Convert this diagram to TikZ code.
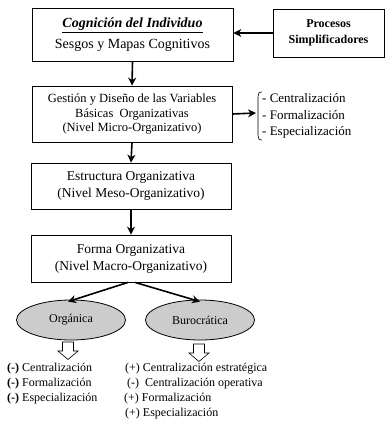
\documentclass[tikz,border=0pt]{standalone}
\usepackage{fontspec}
\setmainfont{Liberation Serif}
\usetikzlibrary{shapes.geometric,arrows.meta}
\begin{document}
\begin{tikzpicture}[x=1pt,y=-1pt,
 box/.style={draw, line width=0.8pt, inner sep=0pt, align=center},
 conn/.style={-{Stealth[length=8pt,width=8pt]}, line width=1.6pt},
 oval/.style={ellipse, draw, fill=black!20, line width=0.8pt, minimum width=109pt, minimum height=40pt, inner sep=0pt, font=\fontsize{12}{14}\selectfont},
 hol/.style={draw, fill=white, line width=0.6pt, line join=miter},
 lst/.style={align=left, inner sep=0pt}]
\useasboundingbox (0,0) rectangle (391,421);

\node[box, minimum width=201pt, minimum height=53pt, font=\fontsize{14}{17}\selectfont] (cog) at (132.5,34.5)
  {\underline{\textbf{\textit{Cognición del Individuo}}}\\[4pt] Sesgos y Mapas Cognitivos};
\node[box, minimum width=111pt, minimum height=48pt, font=\bfseries\fontsize{12}{16}\selectfont] (proc) at (328.5,33)
  {Procesos\\Simplificadores};
\node[box, minimum width=200pt, minimum height=56pt, font=\fontsize{12.5}{14.5}\selectfont] (ges) at (132,114)
  {Gestión y Diseño de las Variables\\Básicas\ \ Organizativas\\(Nivel Micro-Organizativo)};
\node[box, minimum width=200pt, minimum height=46pt, font=\fontsize{13.5}{17}\selectfont] (est) at (131,186)
  {Estructura Organizativa\\(Nivel Meso-Organizativo)};
\node[box, minimum width=200pt, minimum height=47pt, font=\fontsize{13.5}{17}\selectfont] (for) at (131,258.5)
  {Forma Organizativa\\(Nivel Macro-Organizativo)};

\node[lst, anchor=west, font=\fontsize{13}{16.5}\selectfont] (vars) at (262,116)
  {- Centralización\\- Formalización\\- Especialización};
\coordinate (varsin) at (256,113);
\draw[line width=0.6pt] (262,92) .. controls (258.5,92) and (258,94) .. (258,97) -- (258,135) .. controls (258,138) and (258.5,140) .. (262,140);

\node[oval] (org) at (71,320) {Orgánica};
\node[oval] (bur) at (200,320) {Burocrática};

\coordinate (h1) at (68,342);
\coordinate (h2) at (199,344);
\draw[hol] (h1) ++(-5.5,0) -- ++(0,9) -- ++(-4.5,0) -- ++(10,8.5) -- ++(10,-8.5) -- ++(-4.5,0) -- ++(0,-9) -- cycle;
\draw[hol] (h2) ++(-5.5,0) -- ++(0,9) -- ++(-4.5,0) -- ++(10,8.5) -- ++(10,-8.5) -- ++(-4.5,0) -- ++(0,-9) -- cycle;

\node[lst, anchor=base west, font=\fontsize{12}{15}\selectfont] (lorg) at (7,401)
  {\textbf{(-)} Centralización\\\textbf{(-)} Formalización\\\textbf{(-)} Especialización};
\node[lst, anchor=base west, font=\fontsize{12}{15}\selectfont] (lbur) at (124,416)
  {\hspace{1pt}(+) Centralización estratégica\\\hspace{3pt}(-)\ \ Centralización operativa\\(+) Formalización\\\hspace{1pt}(+) Especialización};

\draw[conn] (proc.west) -- (proc.west -| cog.east);
\draw[conn] (cog.south) -- (ges.north);
\draw[conn] (ges.east) -- (varsin);
\draw[conn] (ges.south) -- (est.north);
\draw[conn] (est.south) -- (for.north);
\draw[conn] ([xshift=-3pt]for.south) -- ([xshift=-3pt,yshift=-2pt]org.north);
\draw[conn] ([xshift=4pt]for.south) -- ([yshift=-2pt]bur.north);
\end{tikzpicture}
\end{document}
